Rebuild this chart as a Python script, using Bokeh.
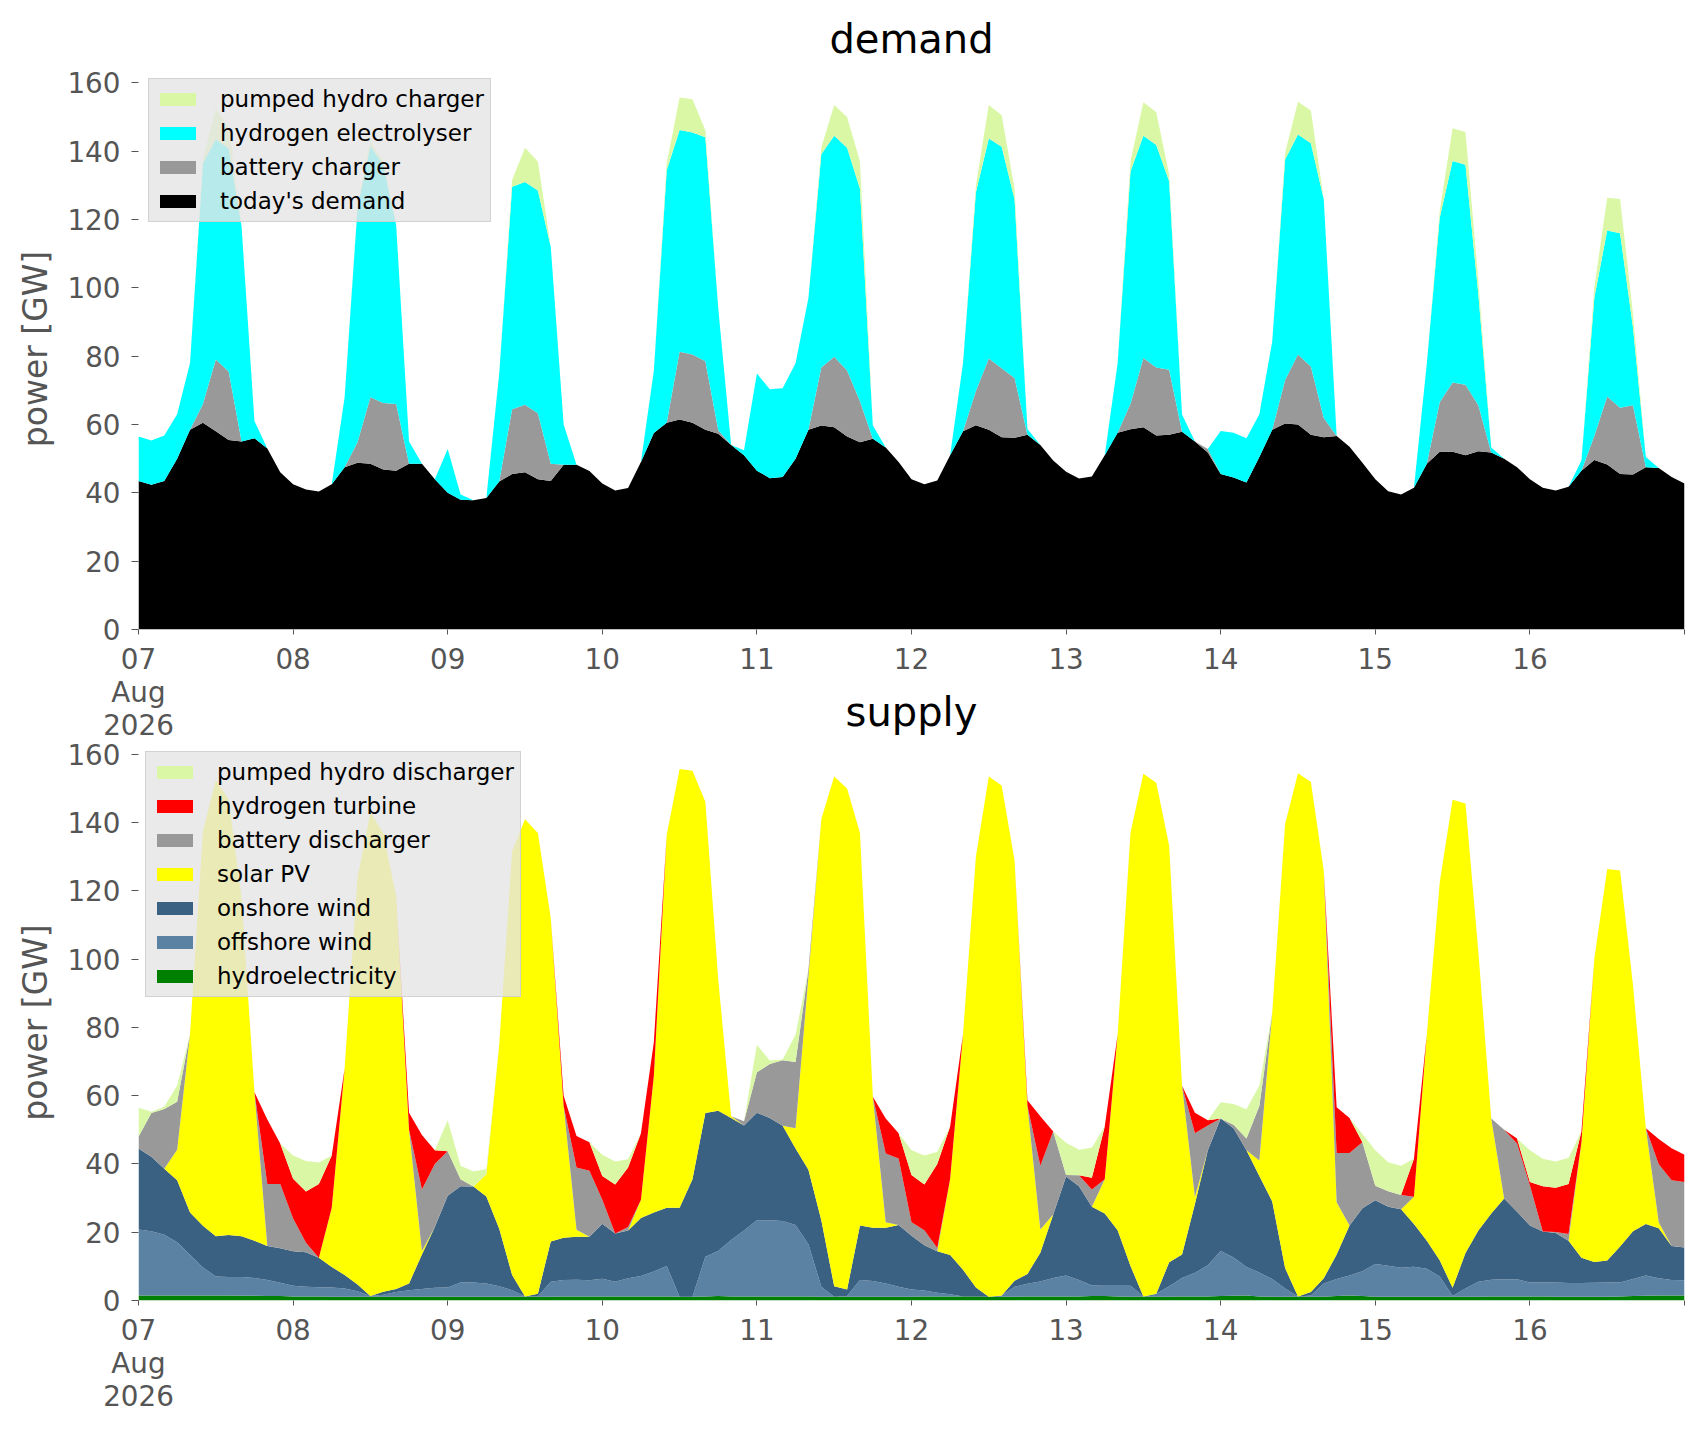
from bokeh.plotting import figure
from bokeh.models import ColumnDataSource, Legend, LegendItem, FixedTicker, Range1d
from bokeh.layouts import column
from bokeh.embed import file_html
from bokeh.resources import INLINE

# hours since 2026-08-07 00:00, every 2 hours
hours = list(range(0, 241, 2))
day_ticks = list(range(0, 241, 24))
day_labels = ["07\nAug\n2026", "08", "09", "10", "11", "12", "13", "14", "15", "16", ""]
y_ticks = list(range(0, 161, 20))

# ---------------- demand [GW] ----------------
todays_demand = [
    43.5, 42.4, 43.5, 50, 58.5, 60.5, 58, 55.5, 55, 56,
    53, 46, 42.5, 41, 40.4, 42.5, 47.5, 48.8, 48.5, 46.8,
    46.5, 48.5, 48.5, 44, 40, 38, 37.8, 38.5, 43.3, 45.5,
    46, 44, 43.5, 48.2, 48.2, 46.4, 42.7, 40.7, 41.4, 49,
    57.5, 60.5, 61.5, 60.5, 58.5, 57.3, 54, 51, 46.5, 44.3,
    44.6, 50, 58.5, 59.7, 59.2, 56.5, 54.8, 55.8, 53.3, 49,
    44, 42.5, 43.6, 51, 58, 59.8, 58.5, 56.3, 56.1, 57,
    54, 49.5, 46.2, 44.2, 44.8, 51, 57.6, 58.6, 59.2, 56.8,
    57, 57.9, 55, 51.8, 45.5, 44.5, 43, 50.5, 58.5, 60.3,
    60, 57, 56.3, 56.6, 53.5, 48.8, 44, 40.5, 39.5, 41.5,
    48.5, 52, 52, 51, 52.2, 51.8, 50, 47.5, 44, 41.5,
    40.7, 41.8, 46.5, 49.6, 48.3, 45.5, 45.4, 47.5, 47.3, 44.6,
    42.7]
battery_charger = [
    0, 0, 0, 0, 0, 5.5, 21, 20, 0, 0,
    0, 0, 0, 0, 0, 0, 0, 6, 19.5, 19.5,
    19.5, 0, 0, 0, 0, 0, 0, 0, 0, 19,
    19.8, 19.3, 5, 0, 0, 0, 0, 0, 0, 0,
    0, 0, 19.8, 20, 20, 1, 0, 0, 0, 0,
    0, 0, 0, 17, 20.6, 19.3, 12, 0, 0, 0,
    0, 0, 0, 0, 0, 10, 20.8, 20.2, 17.5, 0,
    0, 0, 0, 0, 0, 0, 0, 7.5, 20.3, 19.9,
    19, 0, 0, 1, 0, 0, 0, 0, 0, 12.7,
    20.5, 20, 5.6, 0, 0, 0, 0, 0, 0, 0,
    0, 14.5, 20.3, 20.6, 13.4, 0, 0, 0, 0, 0,
    0, 0, 0, 7, 19.9, 19.4, 20.2, 0, 0, 0,
    0]
hydrogen_electrolyser = [
    13, 12.9, 13.3, 13, 19.5, 70.5, 64.5, 65.3, 63, 5,
    0, 0, 0, 0, 0, 0, 20.5, 68.7, 73.5, 69.7,
    52.4, 6.5, 0, 0, 12.8, 1.5, 0, 0, 31.7, 65.1,
    65.2, 65.2, 63.5, 11.8, 0, 0, 0, 0, 0, 0,
    18.2, 73.9, 64.9, 65, 65.6, 35.7, 0, 1.5, 28.4, 26,
    26, 27.9, 38.5, 62.4, 64.7, 65.2, 62.2, 3.9, 0, 0,
    0, 0, 0, 0, 20, 58.2, 64.4, 64.8, 52.3, 1.7,
    0, 0, 0, 0, 0, 0, 20.3, 68, 65, 65.1,
    55.2, 5, 0, 0, 12.6, 13.1, 13, 12.5, 25.8, 64.6,
    64.4, 65.3, 64, 0, 0, 0, 0, 0, 0, 0,
    29.4, 54, 64.8, 64.4, 32.5, 1.5, 0, 0, 0, 0,
    0, 0, 3, 40.5, 48.6, 51.1, 22.9, 3, 0, 0,
    0]
pumped_hydro_charger = [
    0, 0, 0, 0, 0, 1, 9, 6, 0, 0,
    0, 0, 0, 0, 0, 0, 0, 0.5, 1.5, 1,
    0, 0, 0, 0, 0, 0, 0, 0, 0, 2,
    10, 8.5, 0, 0, 0, 0, 0, 0, 0, 0,
    0, 2, 9.5, 9.7, 2, 0, 0, 0, 0, 0,
    0, 0, 0, 2, 9, 9, 8, 0, 0, 0,
    0, 0, 0, 0, 0, 2, 9.8, 9.2, 3, 0,
    0, 0, 0, 0, 0, 0, 0, 3, 9.8, 9.6,
    2, 0, 0, 0, 0, 0, 0, 0, 0, 2,
    9.6, 9.6, 0, 0, 0, 0, 0, 0, 0, 0,
    0, 2, 9.6, 9.6, 4, 0, 0, 0, 0, 0,
    0, 0, 0, 3, 9.6, 10, 4, 0, 0, 0,
    0]

# ---------------- supply [GW] ----------------
hydroelectricity = [
    1.5, 1.5, 1.5, 1.5, 1.5, 1.5, 1.5, 1.5, 1.4, 1.4,
    1.3, 1.3, 1.2, 1.2, 1.2, 1.1, 1.1, 1.1, 1.1, 1.1,
    1.1, 1.1, 1.1, 1.1, 1.1, 1.1, 1.1, 1.1, 1.1, 1.1,
    1.1, 1.1, 1.1, 1.2, 1.2, 1.2, 1.2, 1.2, 1.2, 1.2,
    1.2, 1.2, 1.1, 1.1, 1.2, 1.3, 1.2, 1.2, 1.2, 1.2,
    1.2, 1.2, 1.2, 1.1, 1.1, 1.1, 1.1, 1.1, 1.1, 1.1,
    1.1, 1.2, 1.2, 1.2, 1.2, 1.2, 1.1, 1.1, 1.1, 1.2,
    1.2, 1.2, 1.2, 1.2, 1.3, 1.3, 1.2, 1.1, 1.1, 1.1,
    1.1, 1.2, 1.2, 1.2, 1.3, 1.4, 1.5, 1.2, 1.1, 1.1,
    1.1, 1.1, 1.1, 1.3, 1.5, 1.3, 1.1, 1.1, 1.1, 1.1,
    1.1, 1.1, 1.1, 1.1, 1.1, 1.2, 1.2, 1.2, 1.2, 1.2,
    1.1, 1.1, 1.1, 1.1, 1.1, 1.2, 1.3, 1.4, 1.5, 1.5,
    1.5]
offshore_wind = [
    19.3, 18.8, 17.8, 15.6, 11.9, 8.2, 5.5, 5.4, 5.5, 5.2,
    4.7, 3.9, 3.1, 2.8, 2.7, 2.7, 2.4, 1.6, 0.2, 0.6,
    1.4, 1.9, 2.3, 2.6, 2.7, 4.2, 4.2, 3.9, 3.1, 1.9,
    0.1, 0.1, 4.4, 4.8, 4.9, 4.7, 5.2, 4.3, 5.3, 6,
    7.3, 8.9, 0, 0, 11.6, 13.2, 16.5, 19.3, 22.3, 22.3,
    22.1, 20.9, 15.3, 2.9, 0, 0.2, 4.9, 4.6, 3.9, 2.9,
    2.1, 1.7, 1.1, 0.6, 0, 0, 0, 0.4, 2.9, 3.7,
    4.4, 5.4, 6.1, 4.8, 3.1, 3, 3.1, 3.2, 0.1, 0.9,
    3.1, 5.4, 6.9, 9.1, 13.2, 11.2, 8.3, 7, 5.2, 2.4,
    0.1, 0.4, 3.9, 5, 5.8, 7.3, 9.6, 9.1, 8.5, 8.8,
    8.2, 5.9, 0.2, 2.4, 4.4, 4.9, 5, 5, 4.1, 4.1,
    4.2, 4, 4, 4.1, 4.2, 4.1, 5, 5.9, 5, 4.5,
    4.4]
onshore_wind = [
    23.7, 21.8, 19.3, 18.1, 12.4, 12.2, 11.8, 12.3, 11.9, 10.9,
    10, 10.1, 10.1, 10.1, 8.6, 6, 4, 2, 0, 0.9,
    0.9, 2, 10.1, 17.8, 26.9, 28.2, 28.1, 25.5, 16.8, 4.5,
    0, 0.8, 11.8, 12.4, 12.6, 12.8, 16.1, 14.1, 14, 17,
    17.3, 17.1, 26.1, 34.4, 42.1, 41.1, 35.8, 30.8, 31.5, 30,
    27.9, 22.4, 21.8, 19.5, 3.1, 1.9, 16, 15.6, 16.3, 18.1,
    15.8, 13.3, 12.1, 11.5, 7.8, 2.6, 0, 0, 1.8, 2.9,
    8.4, 18.6, 29, 27.5, 23.1, 21.2, 16.3, 5.8, 0, 0,
    7, 6.9, 20.2, 33.7, 38.8, 37.9, 34.2, 28.3, 22.7, 6,
    0, 1, 1.5, 7.2, 14.7, 18.4, 18.7, 17.3, 17.1, 12.5,
    8.2, 4.8, 2.4, 10.4, 15, 19.4, 23.7, 19.8, 16.7, 14.9,
    14.5, 12.4, 7.4, 6.1, 6.4, 10.5, 14, 15.1, 14.7, 10,
    9.6]
solar_pv = [
    0, 0, 0, 9, 52.2, 115.6, 133.7, 127.6, 99.2, 43.5,
    0, 0, 0, 0, 0, 17.4, 60.5, 119.3, 141.7, 134.4,
    115, 45, 1, 0, 0, 0, 0, 6.5, 54, 124.1,
    139.8, 135, 94.7, 38.6, 2, 0, 0, 0, 0, 5.3,
    40, 109.2, 128.5, 119.7, 91.2, 38.4, 0.5, 0, 0, 0,
    0, 6, 56.7, 117.6, 149.3, 146.8, 115, 38.4, 1.6, 0,
    0, 0, 0, 22.4, 69, 126.3, 152.4, 149.4, 123.1, 49.2,
    6.8, 0, 0, 0, 0, 10, 57.3, 127, 153.1, 149.7,
    122, 49.4, 2, 0, 0, 0, 0, 4.5, 55.3, 130.1,
    153.3, 149.4, 119.4, 15.3, 0, 0, 0, 0, 0, 8,
    60.4, 110.7, 143, 131.7, 81.6, 27.8, 0, 0, 0, 0,
    0, 0, 33.9, 88.8, 114.7, 110.2, 72.2, 28.1, 1.7, 0,
    0]
battery_discharger = [
    3.5, 12.8, 17.5, 14, 0, 0, 0, 0, 0, 0,
    18.1, 18.8, 9.6, 2.8, 0, 0, 0, 0, 0, 0,
    0, 0, 18, 18.5, 13, 2, 0, 0, 0, 0,
    0, 0, 0, 0, 18.3, 19.3, 7, 0, 1, 0,
    0, 0, 0, 0, 0, 0, 0, 1.2, 11.9, 15.8,
    19.2, 19.4, 2, 0, 0, 0, 0, 0, 20.2, 19.5,
    3.9, 4.4, 1, 0, 0, 0, 0, 0, 0, 0,
    18.7, 24.3, 0.5, 3.2, 5, 0, 0, 0, 0, 0,
    0, 0, 18.7, 7.3, 0, 1, 3.5, 16, 0, 0,
    0, 0, 0, 14.4, 21.2, 19.4, 4.2, 4.5, 4.2, 0,
    0, 0, 0, 0, 0, 0, 20.1, 20, 11.7, 0,
    0.3, 2, 0, 0, 0, 0, 0, 0, 17, 19.2,
    19.2]
hydrogen_turbine = [
    0, 0, 0, 0, 0, 0, 0, 0, 0, 0,
    18.9, 11.9, 11.7, 15, 21.6, 15.3, 0, 0, 0, 0,
    0, 5, 16, 4, 0, 0, 0, 0, 0, 0,
    0, 0, 0, 3, 9.2, 8.4, 7, 14.4, 17.5, 19.5,
    9.9, 0, 0, 0, 0, 0, 0, 0, 0, 0,
    0, 0, 0, 0, 0, 0, 0, 0, 10.2, 7.4,
    13.9, 13.4, 24.6, 15.3, 0, 0, 0, 0, 0, 1.7,
    14.5, 0, 0, 0, 3.5, 15.5, 0, 0, 0, 0,
    0, 0, 6, 1.5, 0, 0, 0, 0, 0, 0,
    0, 0, 0, 13.4, 10.3, 0, 0, 0, 0, 11.1,
    0, 0, 0, 0, 0, 0, 0, 1.5, 1, 13.3,
    12.9, 14.6, 3.1, 0, 0, 0, 0, 0, 7.4, 9.4,
    8]
pumped_hydro_discharger = [
    8.5, 0.4, 0.7, 4.8, 0, 0, 0, 0, 0, 0,
    0, 0, 6.8, 9, 6.3, 0, 0, 0, 0, 0,
    0, 0, 0, 0, 9.1, 4, 4.4, 1.5, 0, 0,
    0, 0, 0, 0, 0, 0, 6.2, 6.7, 2.4, 0,
    0, 0, 0, 0, 0, 0, 0, 0, 8, 1,
    0.2, 8, 0, 0, 0, 0, 0, 0, 0, 0,
    7.2, 8.5, 3.6, 0, 0, 0, 0, 0, 0, 0,
    0, 0, 9.4, 7.5, 8.8, 0, 0, 0, 0, 0,
    0, 0, 0, 0, 4.8, 6.1, 8.5, 6, 0, 0,
    0, 0, 0, 0, 0, 2.4, 10.4, 8.5, 8.6, 0,
    0, 0, 0, 0, 0, 0, 0, 0, 9.3, 8,
    7.7, 7.7, 0, 0, 0, 0, 0, 0, 0, 0,
    0]

demand_series = [
    ("today's demand", "todays_demand", todays_demand, "#000000"),
    ("battery charger", "battery_charger", battery_charger, "#999999"),
    ("hydrogen electrolyser", "hydrogen_electrolyser", hydrogen_electrolyser, "#00FFFF"),
    ("pumped hydro charger", "pumped_hydro_charger", pumped_hydro_charger, "#DAF7A6"),
]
supply_series = [
    ("hydroelectricity", "hydroelectricity", hydroelectricity, "#008000"),
    ("offshore wind", "offshore_wind", offshore_wind, "#5B82A3"),
    ("onshore wind", "onshore_wind", onshore_wind, "#3B6182"),
    ("solar PV", "solar_pv", solar_pv, "#FFFF00"),
    ("battery discharger", "battery_discharger", battery_discharger, "#999999"),
    ("hydrogen turbine", "hydrogen_turbine", hydrogen_turbine, "#FF0000"),
    ("pumped hydro discharger", "pumped_hydro_discharger", pumped_hydro_discharger, "#DAF7A6"),
]

FONT = "DejaVu Sans"
GREY = "#555555"


def make_fig(series, title, title_standoff, top_border, frame_h, y_top,
             legend_margin, **kw):
    p = figure(output_backend="svg", toolbar_location=None,
               frame_width=1546, frame_height=frame_h,
               x_range=Range1d(0, 240), y_range=Range1d(0, y_top),
               min_border_left=138, min_border_right=6,
               min_border_top=top_border, min_border_bottom=0,
               background_fill_color="white", **kw)
    p.outline_line_color = None
    p.grid.visible = False
    data = {"hours": hours}
    for _, key, vals, _ in series:
        data[key] = vals
    src = ColumnDataSource(data)
    rends = p.varea_stack(stackers=[s[1] for s in series], x="hours",
                          color=[s[3] for s in series], source=src)
    items = [LegendItem(label=s[0], renderers=[r]) for s, r in zip(series, rends)]
    items.reverse()
    legend = Legend(items=items, location="top_left", margin=legend_margin, padding=6,
                    spacing=6, glyph_width=45, glyph_height=16, label_height=28,
                    label_standoff=20, label_text_font=FONT,
                    label_text_font_size="23px", label_text_color="black",
                    background_fill_color="#E5E5E5", background_fill_alpha=0.8,
                    border_line_color="#CCCCCC", border_line_alpha=0.8)
    p.add_layout(legend)

    p.xaxis.ticker = FixedTicker(ticks=day_ticks)
    p.xaxis.major_label_overrides = {t: l for t, l in zip(day_ticks, day_labels)}
    p.yaxis.ticker = FixedTicker(ticks=y_ticks)
    for ax in (p.xaxis[0], p.yaxis[0]):
        ax.axis_line_color = None
        ax.major_tick_line_color = GREY
        ax.major_tick_in = 0
        ax.minor_tick_line_color = None
        ax.major_label_text_font = FONT
        ax.major_label_text_font_size = "27.8px"
        ax.major_label_text_color = GREY
    p.xaxis.major_tick_out = 5
    p.yaxis.major_tick_out = 7
    p.xaxis.major_label_standoff = 8
    p.xaxis.major_label_text_line_height = 1.0
    p.yaxis.major_label_standoff = 11
    p.yaxis.axis_label = "power [GW]"
    p.yaxis.axis_label_text_font = FONT
    p.yaxis.axis_label_text_font_size = "33px"
    p.yaxis.axis_label_text_font_style = "normal"
    p.yaxis.axis_label_text_color = GREY
    p.yaxis.axis_label_standoff = 9
    p.title.text = title
    p.title.align = "center"
    p.title.text_font = FONT
    p.title.text_font_size = "40px"
    p.title.text_font_style = "normal"
    p.title.text_color = "black"
    p.title.standoff = title_standoff
    return p


p1 = make_fig(demand_series, "demand", 13, 68, 561, 164.2, 10,
              border_fill_color="white")
# the lower panel's title sits beside the date labels of the upper panel:
# its border is transparent and it is pulled up over the upper panel's margin
p2 = make_fig(supply_series, "supply", 20, 70, 556, 162.9, 7,
              border_fill_alpha=0.0, margin=(-70, 0, 0, 0))

layout = column(p1, p2, spacing=0)
open("out.html", "w").write(file_html(layout, INLINE))
